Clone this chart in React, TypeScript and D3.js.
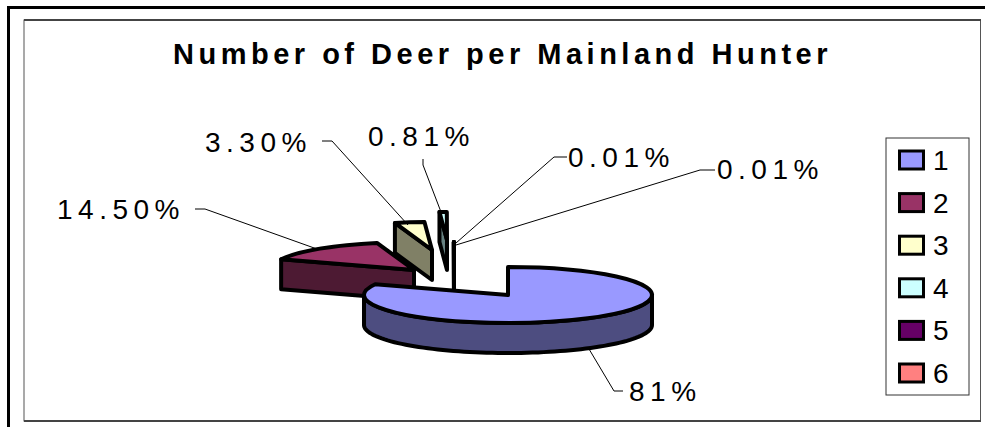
import React from 'react'
import * as d3 from 'd3'

const title = 'Number of Deer per Mainland Hunter'
const categories = ['1', '2', '3', '4', '5', '6']
const values = [81, 14.5, 3.3, 0.81, 0.01, 0.01]
const valueLabels = ['81%', '14.50%', '3.30%', '0.81%', '0.01%', '0.01%']
const colors = ['#9999FF', '#993366', '#FFFFCC', '#CCFFFF', '#660066', '#FF8080']

// where each dragged-out slice ended up, relative to the pie centre
const offsets = [
	[0, 0],
	[-94, -25],
	[-76, -45],
	[-61, -55],
	[-54, -25],
	[-54, -25],
]

// leader lines from label to slice
const leaders = [
	[[623, 391], [614, 391], [589, 349]],
	[[195, 209], [205, 209], [317, 249]],
	[[322, 141], [332, 141], [408, 225]],
	[[423, 159], [423, 165], [441, 212]],
	[[567, 157], [554, 157], [456, 243]],
	[[715, 170], [700, 170], [456, 245]],
]
const labelPos = [
	[629, 401],
	[57, 219],
	[205, 152],
	[368, 146],
	[568, 167],
	[717, 179],
]

const cx = 508
const cy = 295
const rx = 144
const ry = 28
const depth = 30

const pie = d3.pie<number>().sort(null)
const arc = d3.arc<d3.PieArcDatum<number>>().innerRadius(0).outerRadius(rx)
const line = d3.line()
const legendY = d3.scalePoint<string>().domain(categories).range([160, 373])

const rim = (a: number): [number, number] => [rx * Math.sin(a), -ry * Math.cos(a)]

const shade = (c: string) => {
	const o = d3.rgb(c)
	return d3.rgb(o.r * 0.5, o.g * 0.5, o.b * 0.5).formatHex()
}

// front wall of the main slice
const frontWall = () => {
	const angles = d3.range(Math.PI / 2, (3 * Math.PI) / 2 + 0.01, 0.04)
	const top = angles.map(rim)
	const bottom = angles.map(rim).reverse().map(([x, y]) => [x, y + depth] as [number, number])
	return line([...top, ...bottom]) + 'Z'
}

// radial cut face on the start side of a slice
const cutFace = (a: number) => {
	const [x, y] = rim(a)
	return line([[x, y], [0, 0], [0, depth], [x, y + depth]]) + 'Z'
}

const App = () => {
	const slices = pie(values)
	const order = [1, 2, 3, 4, 5, 0]

	return (
		<svg
			width={985}
			height={427}
			style={{ position: 'absolute', left: 0, top: 0, fontFamily: '"Liberation Sans", Arial, sans-serif' }}
		>
			<rect width={985} height={427} fill="#fff" />
			<rect x={8.5} y={7.5} width={990} height={440} fill="none" stroke="#000" strokeWidth={3} />
			<rect x={24} y={20} width={956.5} height={401} fill="#fff" stroke="#555" strokeWidth={1} />
			<path d="M24,20H981M24,421H981" stroke="#444" strokeWidth={2} fill="none" />

			<text x={173} y={64} fontSize={29} fontWeight="bold" letterSpacing={4.5}>
				{title}
			</text>

			{order.map(i => {
				const s = slices[i]
				const c = colors[i]
				const [dx, dy] = offsets[i]
				return (
					<g key={i} transform={`translate(${cx + dx},${cy + dy})`} stroke="#000" strokeWidth={4} strokeLinejoin="round">
						{i === 0 ? (
							<path d={frontWall()} fill={shade(c)} />
						) : (
							<path d={cutFace(s.startAngle)} fill={shade(c)} />
						)}
						<path
							d={arc(s) as string}
							transform={`scale(1,${ry / rx})`}
							vectorEffect="non-scaling-stroke"
							fill={c}
						/>
					</g>
				)
			})}

			{leaders.map((l, i) => (
				<path key={i} d={line(l as [number, number][]) as string} fill="none" stroke="#000" strokeWidth={1} />
			))}
			{valueLabels.map((t, i) => (
				<text key={i} x={labelPos[i][0]} y={labelPos[i][1]} fontSize={28} letterSpacing={5.5} fill="#000">
					{t}
				</text>
			))}

			<rect x={886} y={138} width={83} height={257} fill="#fff" stroke="#333" strokeWidth={1} />
			{categories.map((c, i) => {
				const y = legendY(c) as number
				return (
					<g key={c}>
						<rect x={899.5} y={y - 9} width={24} height={18} fill={colors[i]} stroke="#000" strokeWidth={3} />
						<text x={933} y={y + 10} fontSize={28}>
							{c}
						</text>
					</g>
				)
			})}
		</svg>
	)
}

export default App
